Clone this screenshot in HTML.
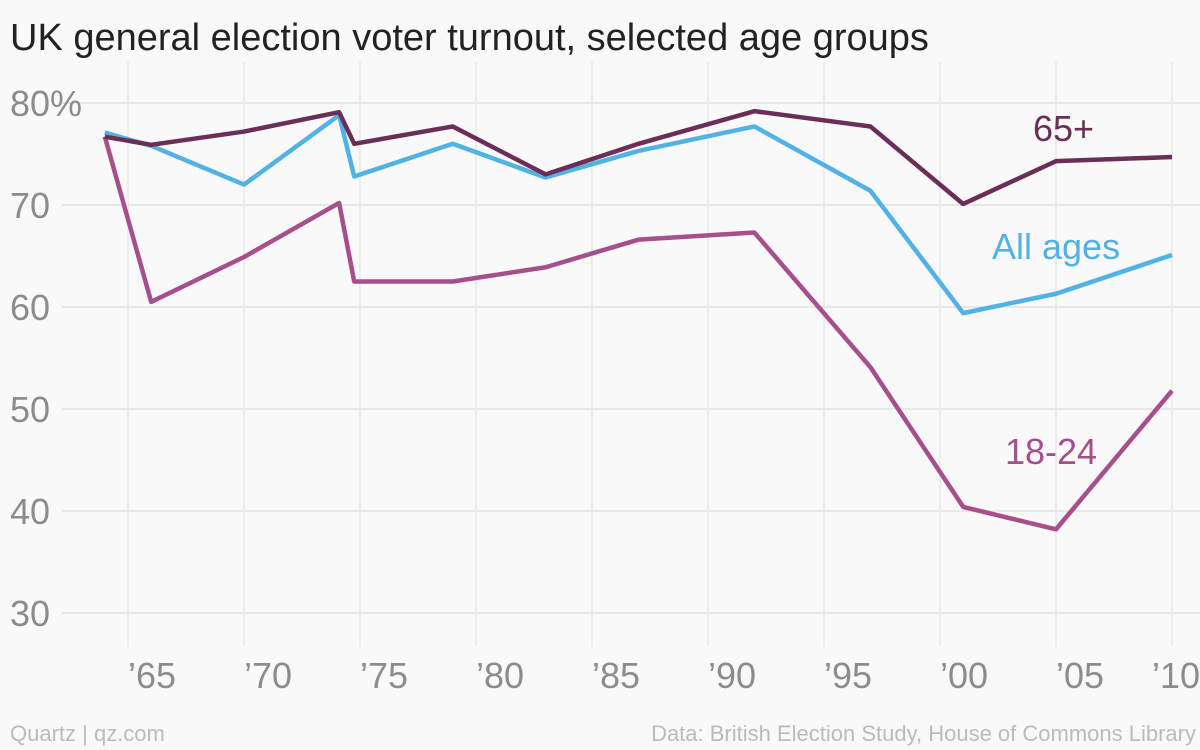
<!DOCTYPE html>
<html><head><meta charset="utf-8"><style>
body{margin:0;background:#f9f9f9;font-family:"Liberation Sans",sans-serif}
svg{display:block}
</style></head><body>
<svg width="1200" height="750">
<rect width="1200" height="750" fill="#f9f9f9"/>
<text x="10" y="50" font-size="38" fill="#222">UK general election voter turnout, selected age groups</text>
<g id="grid"></g>
<g id="lines"></g>
<text x="1033" y="141" font-size="36" fill="#6b2f57">65+</text>
<text x="992" y="259" font-size="36" fill="#51b2e5">All ages</text>
<text x="1005" y="464" font-size="36" fill="#a64f8c">18-24</text>
<text x="10" y="741" font-size="22" fill="#bbb">Quartz | qz.com</text>
<text x="1196" y="741" font-size="22" fill="#bbb" text-anchor="end">Data: British Election Study, House of Commons Library</text>
</svg>
<script>
const years=[1964,1966,1970,1974.1,1974.75,1979,1983,1987,1992,1997,2001,2005,2010];
const allAges=[77.1,75.8,72.0,78.8,72.8,76.0,72.7,75.3,77.7,71.4,59.4,61.3,65.1];
const over65=[76.7,75.9,77.2,79.1,76.0,77.7,73.0,76.0,79.2,77.7,70.1,74.3,74.7];
const young=[76.7,60.5,64.9,70.2,62.5,62.5,63.9,66.6,67.3,54.1,40.4,38.2,51.8];
const yTicks=[30,40,50,60,70,80];
const xTicks=[1965,1970,1975,1980,1985,1990,1995,2000,2005,2010];
const xTickLabels=["’65","’70","’75","’80","’85","’90","’95","’00","’05","’10"];
const NS="http://www.w3.org/2000/svg";
const x=v=>128+(v-1965)*(1044/45);
const y=v=>613-(v-30)*10.2;
const grid=document.getElementById('grid'),lines=document.getElementById('lines');
function mk(tag,attrs,parent){const e=document.createElementNS(NS,tag);for(const k in attrs)e.setAttribute(k,attrs[k]);parent.appendChild(e);return e;}
yTicks.forEach(t=>{
 const l=mk('line',{x1:62,x2:1200,y1:y(t),y2:y(t),stroke:'#e8e8e8','stroke-width':2},grid);
 
 
 const tx=mk('text',{x:10,y:y(t)+13,'font-size':36,fill:'#8c8c8c'},grid);
 tx.textContent=t===80?'80%':String(t);
 
 
});
xTicks.forEach((t,i)=>{
 const l=mk('line',{x1:x(t),x2:x(t),y1:62,y2:647,stroke:'#ececec','stroke-width':2},grid);
 
 
 const tx=mk('text',{x:i===xTicks.length-1?1200:x(t),y:688,'font-size':36,fill:'#8c8c8c','text-anchor':i===xTicks.length-1?'end':'start'},grid);
 tx.textContent=xTickLabels[i];
 
 
});
function series(vals,color,name){
 const p=mk('polyline',{points:vals.map((v,i)=>x(years[i])+','+y(v)).join(' '),fill:'none',stroke:color,'stroke-width':4.5,'stroke-linejoin':'round'},lines);
 
 
}
series(young,'#a64f8c','line-18-24');
series(allAges,'#51b2e5','line-all-ages');
series(over65,'#6b2f57','line-65-plus');
</script>
</body></html>
